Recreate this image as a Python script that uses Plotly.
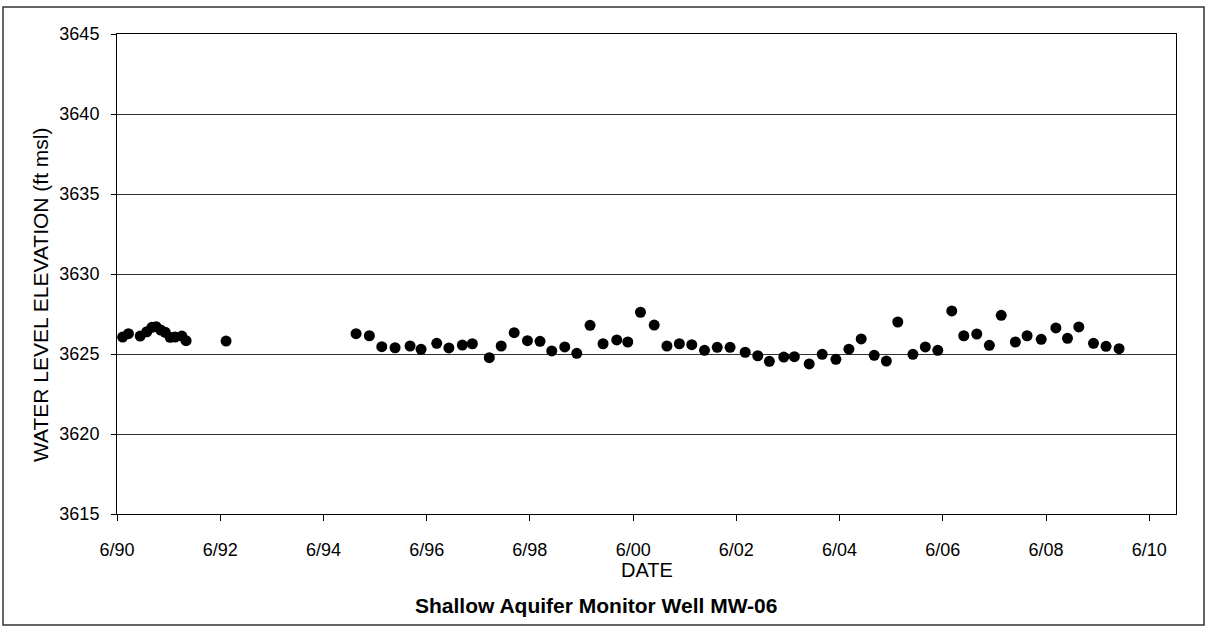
import plotly.graph_objects as go

dates = [
    "1990-07-11", "1990-08-21", "1990-11-12", "1990-12-29", "1991-02-03", "1991-03-05",
    "1991-04-06", "1991-05-08", "1991-06-12", "1991-07-17", "1991-09-03", "1991-10-03",
    "1992-07-12",
    "1995-01-18", "1995-04-22", "1995-07-19", "1995-10-21", "1996-02-04", "1996-04-22",
    "1996-08-11", "1996-11-05", "1997-02-08", "1997-04-20", "1997-08-18", "1997-11-10",
    "1998-02-10", "1998-05-15", "1998-08-12", "1998-11-03", "1999-02-03", "1999-04-29",
    "1999-08-01", "1999-11-01", "2000-02-06", "2000-04-24", "2000-07-23", "2000-10-28",
    "2001-01-26", "2001-04-24", "2001-07-21", "2001-10-19", "2002-01-17", "2002-04-18",
    "2002-08-03", "2002-10-31", "2003-01-21", "2003-05-03", "2003-07-17", "2003-10-30",
    "2004-01-30", "2004-05-06", "2004-08-06", "2004-11-01", "2005-02-01", "2005-04-28",
    "2005-07-18", "2005-11-02", "2006-01-29", "2006-04-27", "2006-08-04", "2006-10-28",
    "2007-01-28", "2007-04-27", "2007-07-20", "2007-10-28", "2008-01-19", "2008-04-28",
    "2008-08-10", "2008-10-31", "2009-01-19", "2009-05-03", "2009-07-31", "2009-10-31",
]
levels = [
    3626.06, 3626.27, 3626.12, 3626.39, 3626.67, 3626.71,
    3626.50, 3626.36, 3626.04, 3626.06, 3626.12, 3625.83,
    3625.81,
    3626.27, 3626.14, 3625.46, 3625.39, 3625.50, 3625.29,
    3625.67, 3625.38, 3625.56, 3625.64, 3624.77, 3625.50,
    3626.33, 3625.83, 3625.79, 3625.19, 3625.44, 3625.04,
    3626.79, 3625.64, 3625.88, 3625.75, 3627.61, 3626.81,
    3625.50, 3625.64, 3625.58, 3625.23, 3625.42, 3625.42,
    3625.11, 3624.89, 3624.54, 3624.81, 3624.83, 3624.38,
    3624.98, 3624.67, 3625.30, 3625.94, 3624.92, 3624.56,
    3627.00, 3624.98, 3625.44, 3625.23, 3627.69, 3626.14,
    3626.25, 3625.54, 3627.42, 3625.75, 3626.14, 3625.92,
    3626.63, 3625.98, 3626.69, 3625.67, 3625.48, 3625.33,
]

x_range = ["1990-06-01", "2010-12-08"]
y_range = [3615, 3645]
title_text = "Shallow Aquifer Monitor Well MW-06"
x_title = "DATE"
y_title = "WATER LEVEL ELEVATION (ft msl)"

FONT = "Liberation Sans, Arial, sans-serif"
W, H = 1207, 627
L, R, T, B = 117, 31, 34, 113
pw, ph = W - L - R, H - T - B

def px(x):
    return (x - L) / pw

def py(y):
    return (H - B - y) / ph

fig = go.Figure()
fig.add_trace(go.Scatter(
    x=dates, y=levels, mode="markers",
    marker=dict(color="black", size=11, symbol="circle"),
    showlegend=False,
))

fig.update_layout(
    width=W, height=H,
    margin=dict(l=L, r=R, t=T, b=B, autoexpand=False),
    paper_bgcolor="white", plot_bgcolor="white",
    font=dict(family=FONT, color="black", size=18),
    xaxis=dict(
        type="date", range=x_range,
        tick0="1990-06-01", dtick="M24", tickformat="%-m/%y",
        ticks="outside", ticklen=6, tickcolor="black",
        showline=True, linecolor="black", linewidth=1, mirror=True,
        showgrid=False, zeroline=False,
        ticklabelstandoff=13,
        tickfont=dict(size=18),
    ),
    yaxis=dict(
        range=y_range, dtick=5, tick0=3615,
        ticks="outside", ticklen=5, tickcolor="black",
        showline=True, linecolor="black", linewidth=1, mirror=True,
        showgrid=True, gridcolor="#333333", gridwidth=1, zeroline=False,
        ticklabelstandoff=8,
        tickfont=dict(size=18),
    ),
    shapes=[
        dict(type="rect", xref="paper", yref="paper",
             x0=px(3), x1=px(1204), y0=py(625), y1=py(7),
             line=dict(color="#333333", width=1.5), fillcolor="rgba(0,0,0,0)",
             layer="below"),
    ],
    annotations=[
        dict(text=y_title, xref="paper", yref="paper", x=px(40), y=py(295),
             textangle=-90, showarrow=False, font=dict(size=21),
             xanchor="center", yanchor="middle"),
        dict(text=x_title, xref="paper", yref="paper", x=0.5, y=py(570),
             showarrow=False, font=dict(size=20), xanchor="center", yanchor="middle"),
        dict(text="<b>" + title_text + "</b>", xref="paper", yref="paper",
             x=px(596), y=py(605), showarrow=False, font=dict(size=21),
             xanchor="center", yanchor="middle"),
    ],
)

fig.write_html("out.html")
